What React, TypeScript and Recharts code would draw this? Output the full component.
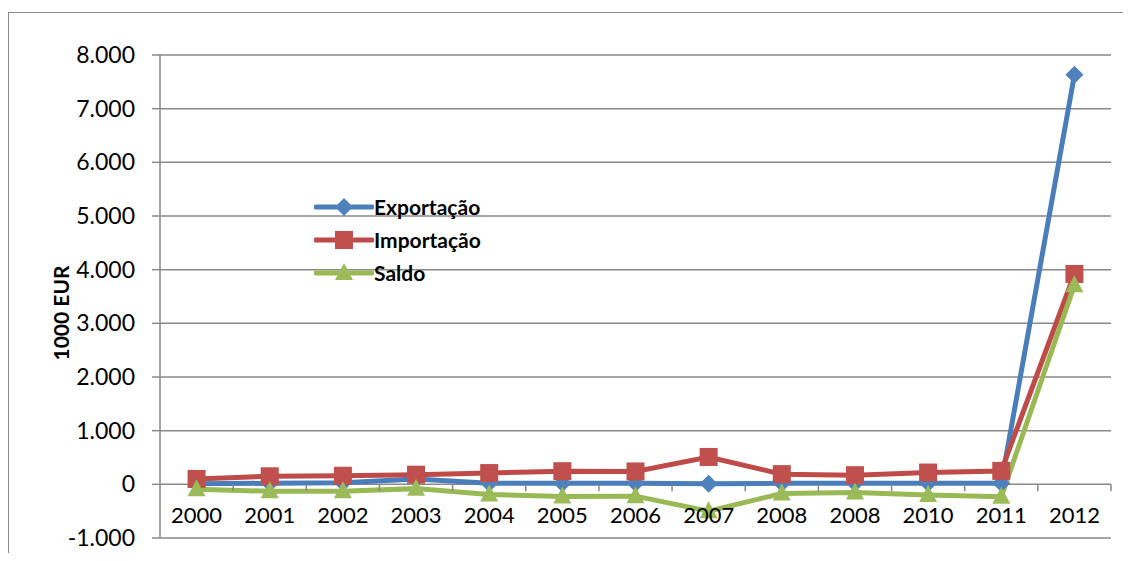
import { LineChart, Line, XAxis, YAxis, CartesianGrid, Legend } from 'recharts';

const years = ['2000', '2001', '2002', '2003', '2004', '2005', '2006', '2007', '2008', '2008', '2010', '2011', '2012'];
const exportacao = [10, 20, 30, 100, 20, 20, 20, 10, 20, 20, 20, 20, 7630];
const importacao = [100, 150, 160, 180, 210, 245, 240, 510, 190, 170, 220, 250, 3920];
const saldo = [-90, -130, -130, -80, -190, -225, -220, -500, -170, -150, -200, -230, 3710];
const yTicks = [-1000, 0, 1000, 2000, 3000, 4000, 5000, 6000, 7000, 8000];

const data = years.map((year, i) => ({
  i,
  year,
  exportacao: exportacao[i],
  importacao: importacao[i],
  saldo: saldo[i],
}));

const W = 1131;
const H = 561;
const X_AXIS_H = 23;
const MARGIN = { top: 55, right: 20, left: 0, bottom: 0 };
const Y_AXIS_W = 160;
const Y_MIN = -1000;
const Y_MAX = 8000;
const PLOT_H = H - MARGIN.top - MARGIN.bottom - X_AXIS_H;
const PLOT_W = W - MARGIN.left - MARGIN.right - Y_AXIS_W;
const BAND = PLOT_W / years.length;
// pixel row of the zero value, where the category labels sit
const ZERO_Y = MARGIN.top + (PLOT_H * (Y_MAX - 0)) / (Y_MAX - Y_MIN);

const FONT = 'Lato, "Open Sans", sans-serif';
const GRID = '#898989';

const SERIES = [
  { key: 'exportacao', name: 'Exportação', stroke: '#4A7EBB', fill: '#4F81BD', shape: 'diamond' },
  { key: 'importacao', name: 'Importação', stroke: '#BE4B48', fill: '#C0504D', shape: 'square' },
  { key: 'saldo', name: 'Saldo', stroke: '#98B954', fill: '#9BBB59', shape: 'triangle' },
];

function Marker({ cx, cy, shape, fill }: { cx: number; cy: number; shape: string; fill: string }) {
  if (shape === 'diamond') {
    return <polygon points={`${cx},${cy - 9} ${cx + 9},${cy} ${cx},${cy + 9} ${cx - 9},${cy}`} fill={fill} />;
  }
  if (shape === 'square') {
    return <rect x={cx - 9} y={cy - 9} width={18} height={18} fill={fill} />;
  }
  return <polygon points={`${cx},${cy - 10} ${cx + 9},${cy + 7} ${cx - 9},${cy + 7}`} fill={fill} />;
}

const fmt = (v: number) => {
  if (v === 0) return '0';
  const s = Math.abs(v).toString();
  const parts = s.length > 3 ? s.slice(0, s.length - 3) + '.' + s.slice(-3) : s;
  return (v < 0 ? '-' : '') + parts;
};

function renderXTick(props: any) {
  const { x, payload, index } = props;
  const edge = x + BAND / 2;
  return (
    <g key={`xt-${index}`}>
      <line x1={edge} x2={edge} y1={ZERO_Y} y2={ZERO_Y + 7} stroke={GRID} strokeWidth={1.5} />
      <text x={x} y={ZERO_Y + 39} textAnchor="middle" fontSize={22} fontFamily={FONT} fill="#000">
        {years[payload.value]}
      </text>
    </g>
  );
}

function LegendBox() {
  return (
    <div style={{ fontFamily: FONT }}>
      {SERIES.map((s) => (
        <div key={s.key} style={{ display: 'flex', alignItems: 'center', height: 33 }}>
          <svg width={60} height={24}>
            <line x1={2} x2={58} y1={12} y2={12} stroke={s.stroke} strokeWidth={5} strokeLinecap="round" />
            <Marker cx={30} cy={12} shape={s.shape} fill={s.fill} />
          </svg>
          <span style={{ fontSize: 21, fontWeight: 700, color: '#000' }}>{s.name}</span>
        </div>
      ))}
    </div>
  );
}

export default function App() {
  return (
    <div style={{ position: 'relative', width: W, height: H, margin: -8, overflow: 'hidden', background: '#fff' }}>
      <div
        style={{
          position: 'absolute',
          left: 8,
          top: 12,
          width: W + 40,
          height: H + 40,
          border: `1.5px solid ${GRID}`,
        }}
      />
      <div style={{ position: 'absolute', left: 0, top: 0 }}>
        <LineChart width={W} height={H} data={data} margin={MARGIN}>
          <CartesianGrid vertical={false} stroke={GRID} strokeWidth={1.5} />
          <XAxis
            dataKey="i"
            type="category"
            scale="band"
            height={X_AXIS_H}
            interval={0}
            axisLine={false}
            tickLine={false}
            tick={renderXTick}
          />
          <YAxis
            width={Y_AXIS_W}
            domain={[Y_MIN, Y_MAX]}
            ticks={yTicks}
            interval={0}
            tickFormatter={fmt}
            tick={{ fontSize: 23, fill: '#000', fontFamily: FONT }}
            tickSize={8}
            tickMargin={17}
            axisLine={{ stroke: GRID, strokeWidth: 1.5 }}
            tickLine={{ stroke: GRID, strokeWidth: 1.5 }}
            label={{
              content: () => (
                <text
                  x={60}
                  y={313}
                  transform="rotate(-90 60 313)"
                  textAnchor="middle"
                  dominantBaseline="central"
                  fontSize={21}
                  fontWeight={700}
                  fontFamily={FONT}
                  fill="#000"
                >
                  1000 EUR
                </text>
              ),
            }}
          />
          <Legend
            layout="vertical"
            align="center"
            verticalAlign="middle"
            content={() => <LegendBox />}
            wrapperStyle={{ left: 314, top: 190, width: 200 }}
          />
          {SERIES.map((s) => (
            <Line
              key={s.key}
              dataKey={s.key}
              name={s.name}
              type="linear"
              stroke={s.stroke}
              strokeWidth={5}
              isAnimationActive={false}
              dot={(p: any) => <Marker key={`${s.key}-${p.index}`} cx={p.cx} cy={p.cy} shape={s.shape} fill={s.fill} />}
              activeDot={false}
            />
          ))}
        </LineChart>
      </div>
    </div>
  );
}
